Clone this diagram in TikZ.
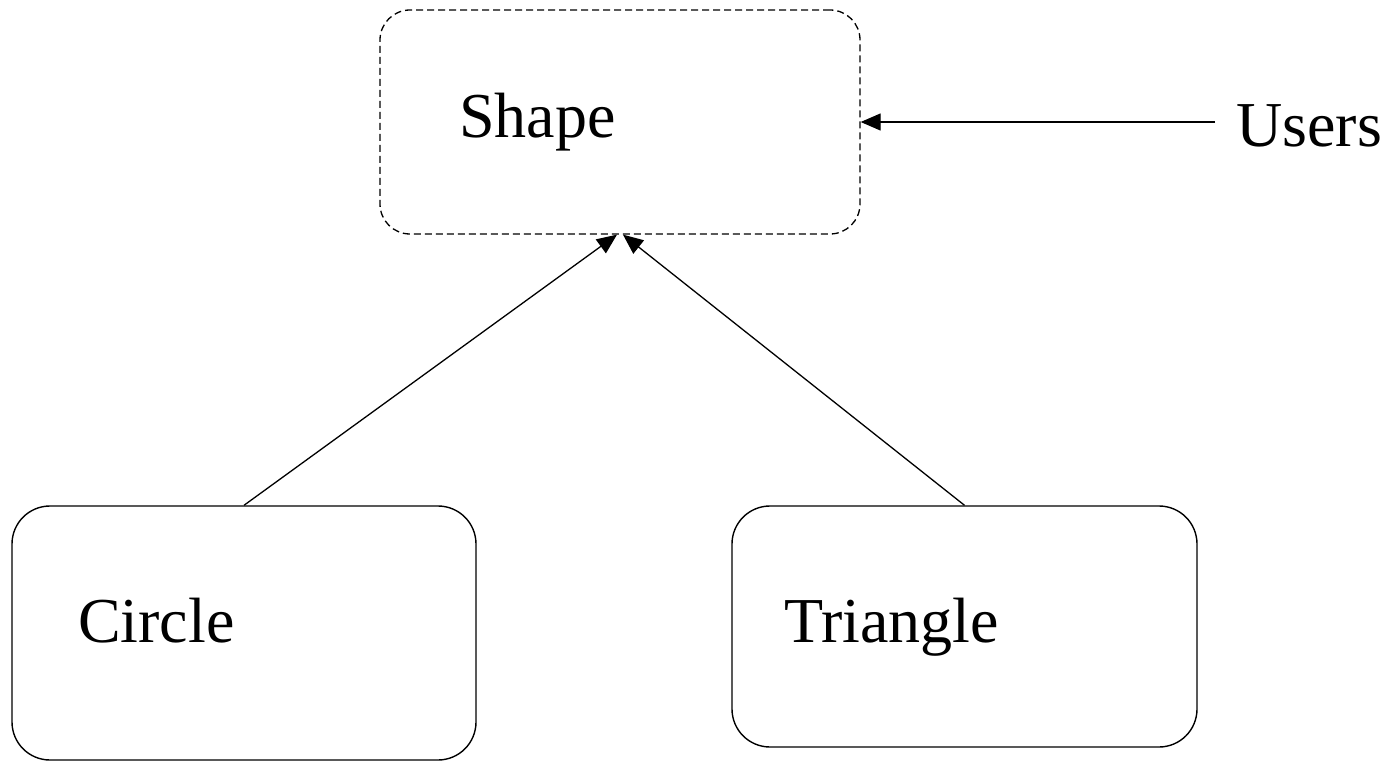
\documentclass[tikz,border=0pt]{standalone}
\usepackage{fontspec}
\setmainfont{Liberation Serif}
\usetikzlibrary{arrows.meta}
\begin{document}
\begin{tikzpicture}[
        x=1pt, y=-1pt,
        box/.style={draw, rounded corners=38pt, line width=1.4pt},
        ifacebox/.style={draw, rounded corners=30pt, line width=1.3pt, dash pattern=on 7pt off 4pt},
        lbl/.style={font=\fontsize{64}{70}\selectfont, inner sep=0pt, anchor=base west},
        arr/.style={draw, line width=1.3pt, -{Triangle[length=20pt, width=17pt]}},
    ]
    \useasboundingbox (0,0) rectangle (1384,762);
    \node[ifacebox, minimum width=480pt, minimum height=224pt](shape) at (620,122){};
    \node[box, minimum width=464pt, minimum height=254pt](circ) at (244,633){};
    \node[box, minimum width=465pt, minimum height=241pt](tri) at (964.5,626.5){};
    \node[lbl](shapetxt) at (459,138){Shape};
    \node[lbl](circtxt) at (78,642){Circle};
    \node[lbl](tritxt) at (784,642){Triangle};
    \node[lbl, inner xsep=21pt](users) at (1215,147){Users};
    \draw[arr] (users.west |- shape.east) -- (shape.east);
    \draw[arr] (circ.north) -- ([xshift=-3pt]shape.south);
    \draw[arr] (tri.north) -- ([xshift=3pt]shape.south);
\end{tikzpicture}
\end{document}
